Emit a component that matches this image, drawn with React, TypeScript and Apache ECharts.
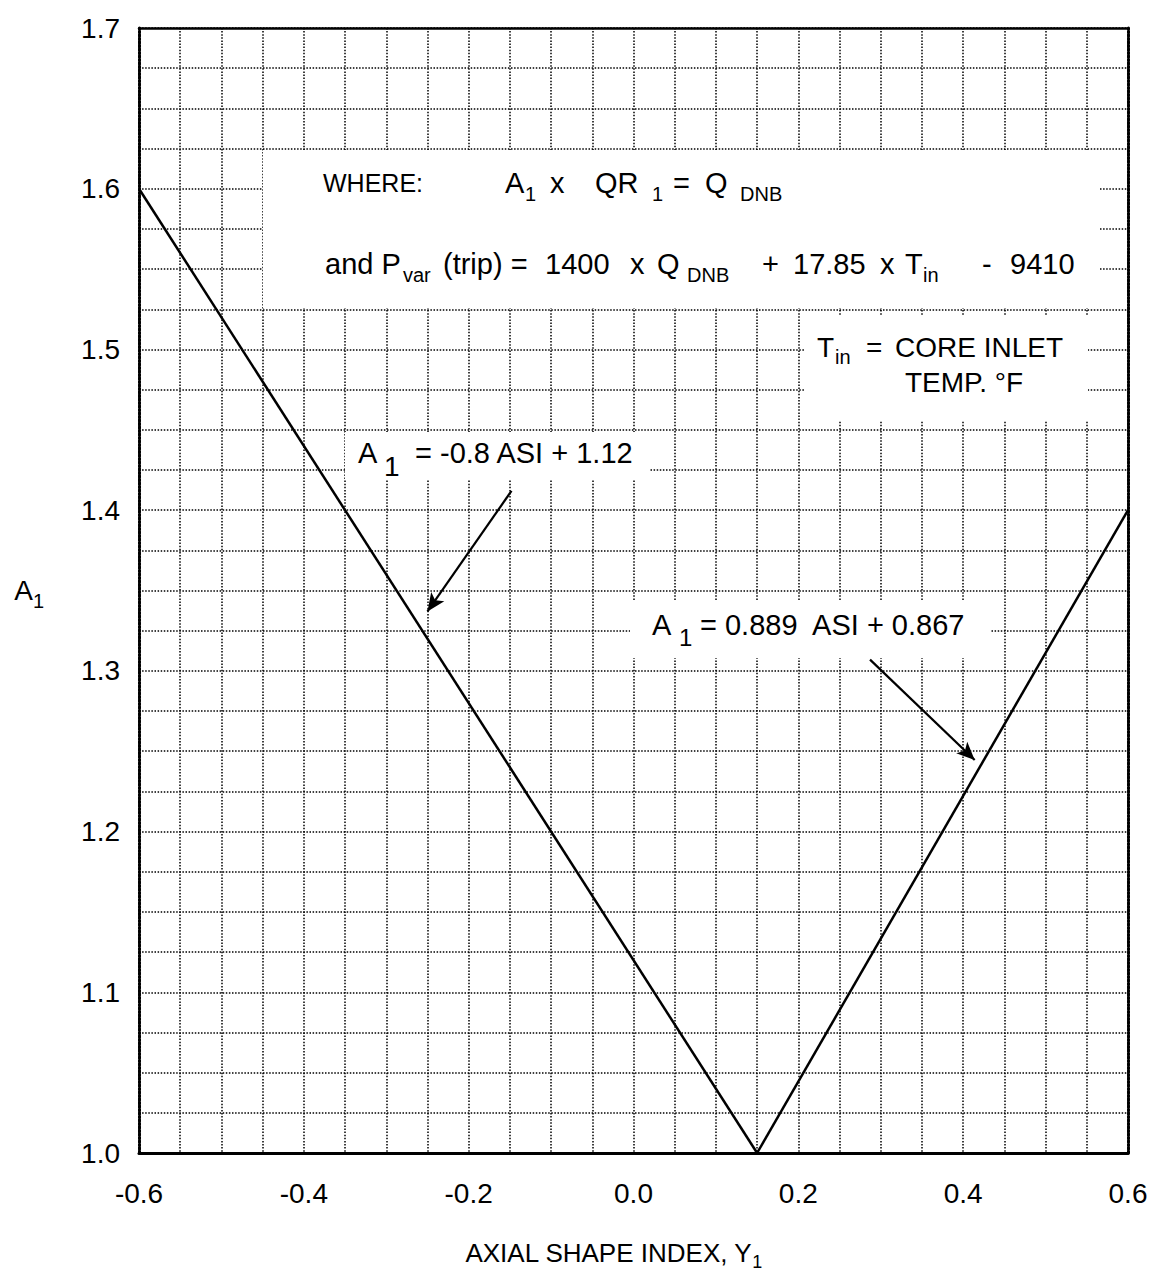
import React, { useEffect, useRef } from "react";
import * as echarts from "echarts";

// ---- axis ranges / ticks ----
const xMin = -0.6;
const xMax = 0.6;
const xGridStep = 0.05;
const yMin = 1.0;
const yMax = 1.7;
const yGridStep = 0.025;
const xTickLabels = ["-0.6", "-0.4", "-0.2", "0.0", "0.2", "0.4", "0.6"];
const yTickLabels = ["1.0", "1.1", "1.2", "1.3", "1.4", "1.5", "1.6", "1.7"];

// ---- data: A1 vs axial shape index ----
const leftLineASI = [-0.6, 0.15];
const leftLineA1 = [1.6, 1.0];
const rightLineASI = [0.15, 0.6];
const rightLineA1 = [1.0, 1.4];

// ---- annotation arrows (data coordinates) ----
const arrowLeftFrom = [-0.148, 1.412];
const arrowLeftTo = [-0.25, 1.337];
const arrowRightFrom = [0.287, 1.307];
const arrowRightTo = [0.414, 1.2445];

const FF = '"Liberation Sans", Arial, Helvetica, sans-serif';

function matchLabel(v: number, labels: string[]) {
  for (const l of labels) {
    if (Math.abs(parseFloat(l) - v) < 1e-6) return l;
  }
  return "";
}

function txt(x: number, y: number, text: string, size = 29) {
  return {
    type: "text",
    x,
    y,
    z: 20,
    silent: true,
    style: {
      text,
      fill: "#000",
      font: `${size}px ${FF}`,
      align: "left",
      verticalAlign: "middle",
    },
  };
}

function box(x: number, y: number, w: number, h: number) {
  return {
    type: "rect",
    z: 15,
    silent: true,
    shape: { x, y, width: w, height: h },
    style: { fill: "#fff" },
  };
}

export default function App() {
  const ref = useRef<HTMLDivElement>(null);
  useEffect(() => {
    if (!ref.current) return;
    const chart = echarts.init(ref.current, undefined, { renderer: "svg" });
    const dotted = { color: "#000", width: 1.5, type: [1.5, 1.6] as any };
    const SUB = 20;
    const sd = 11; // subscript drop
    chart.setOption({
      animation: false,
      backgroundColor: "#fff",
      textStyle: { fontFamily: FF },
      grid: { left: 139, right: 27, top: 28, bottom: 129 },
      xAxis: [
        {
          type: "value",
          min: xMin,
          max: xMax,
          interval: xGridStep,
          position: "bottom",
          axisLine: { show: true, onZero: false, lineStyle: { color: "#000", width: 3 } },
          axisTick: { show: false },
          splitLine: { show: true, lineStyle: dotted },
          axisLabel: {
            formatter: (v: number) => matchLabel(v, xTickLabels),
            fontSize: 28,
            color: "#000",
            margin: 26,
            fontFamily: FF,
          },
          name: "{n|AXIAL SHAPE INDEX, Y}{s|1}",
          nameLocation: "middle",
          nameGap: 82,
          nameTextStyle: {
            padding: [0, 40, 0, 0],
            rich: {
              n: { fontSize: 26, color: "#000", fontFamily: FF },
              s: { fontSize: 18, color: "#000", fontFamily: FF, padding: [18, 0, 0, 0] },
            },
          },
        },
        {
          type: "value",
          min: xMin,
          max: xMax,
          interval: xGridStep,
          position: "top",
          axisLine: { show: true, onZero: false, lineStyle: { color: "#000", width: 2.5 } },
          axisTick: { show: false },
          axisLabel: { show: false },
          splitLine: { show: false },
        },
      ],
      yAxis: [
        {
          type: "value",
          min: yMin,
          max: yMax,
          interval: yGridStep,
          position: "left",
          axisLine: { show: true, onZero: false, lineStyle: { color: "#000", width: 3, type: [2, 1.5] } },
          axisTick: { show: false },
          splitLine: { show: true, lineStyle: dotted },
          axisLabel: {
            formatter: (v: number) => matchLabel(v, yTickLabels),
            fontSize: 28,
            color: "#000",
            margin: 19,
            fontFamily: FF,
          },
          name: "{n|A}{s|1}",
          nameLocation: "middle",
          nameRotate: 0,
          nameGap: 95,
          nameTextStyle: {
            rich: {
              n: { fontSize: 28, color: "#000", fontFamily: FF },
              s: { fontSize: 20, color: "#000", fontFamily: FF, padding: [20, 0, 0, 0] },
            },
          },
        },
        {
          type: "value",
          min: yMin,
          max: yMax,
          interval: yGridStep,
          position: "right",
          axisLine: { show: true, onZero: false, lineStyle: { color: "#000", width: 3, type: [2, 1.5] } },
          axisTick: { show: false },
          axisLabel: { show: false },
          splitLine: { show: false },
        },
      ],
      series: [
        {
          type: "line",
          xAxisIndex: 0,
          yAxisIndex: 0,
          data: leftLineASI.map((x, i) => [x, leftLineA1[i]]),
          symbol: "none",
          lineStyle: { color: "#000", width: 2.5 },
          z: 5,
          markLine: {
            silent: true,
            symbol: ["none", "arrow"],
            symbolSize: [12, 18],
            label: { show: false },
            lineStyle: { color: "#000", width: 2.2, type: "solid" },
            data: [
              [{ coord: arrowLeftFrom }, { coord: arrowLeftTo }],
              [{ coord: arrowRightFrom }, { coord: arrowRightTo }],
            ],
          },
        },
        {
          type: "line",
          xAxisIndex: 0,
          yAxisIndex: 0,
          data: rightLineASI.map((x, i) => [x, rightLineA1[i]]),
          symbol: "none",
          lineStyle: { color: "#000", width: 2.5 },
          z: 5,
        },
      ],
      graphic: [
        // boxes that mask the grid behind the texts
        box(263, 150, 837, 158),
        box(805, 315, 283, 105),
        box(345, 432, 305, 48),
        box(630, 600, 360, 58),
        // WHERE line
        txt(323, 183, "WHERE:", 25),
        txt(505, 183, "A"),
        txt(525, 183 + sd, "1", SUB),
        txt(550, 183, "x"),
        txt(595, 183, "QR"),
        txt(652, 183 + sd, "1", SUB),
        txt(673, 183, "="),
        txt(705, 183, "Q"),
        txt(740, 183 + sd, "DNB", SUB),
        // P var line
        txt(325, 264, "and P"),
        txt(403, 264 + sd, "var", SUB),
        txt(443, 264, "(trip) ="),
        txt(545, 264, "1400"),
        txt(630, 264, "x"),
        txt(657, 264, "Q"),
        txt(687, 264 + sd, "DNB", SUB),
        txt(762, 264, "+"),
        txt(793, 264, "17.85"),
        txt(880, 264, "x"),
        txt(905, 264, "T"),
        txt(923, 264 + sd, "in", SUB),
        txt(982, 264, "-"),
        txt(1010, 264, "9410"),
        // T in
        txt(817, 347, "T", 28),
        txt(835, 357, "in", SUB),
        txt(866, 347, "=", 28),
        txt(895, 347, "CORE INLET", 28),
        txt(905, 382, "TEMP. \u00B0F", 28),
        // left line label
        txt(358, 453, "A"),
        txt(384, 466, "1", 28),
        txt(415, 453, "= -0.8 ASI + 1.12"),
        // right line label
        txt(652, 625, "A"),
        txt(679, 637, "1", 24),
        txt(700, 625, "= 0.889  ASI + 0.867"),
      ],
    });
    return () => chart.dispose();
  }, []);
  return (
    <div
      ref={ref}
      style={{ position: "fixed", left: 0, top: 0, width: 1155, height: 1282, background: "#fff" }}
    />
  );
}
